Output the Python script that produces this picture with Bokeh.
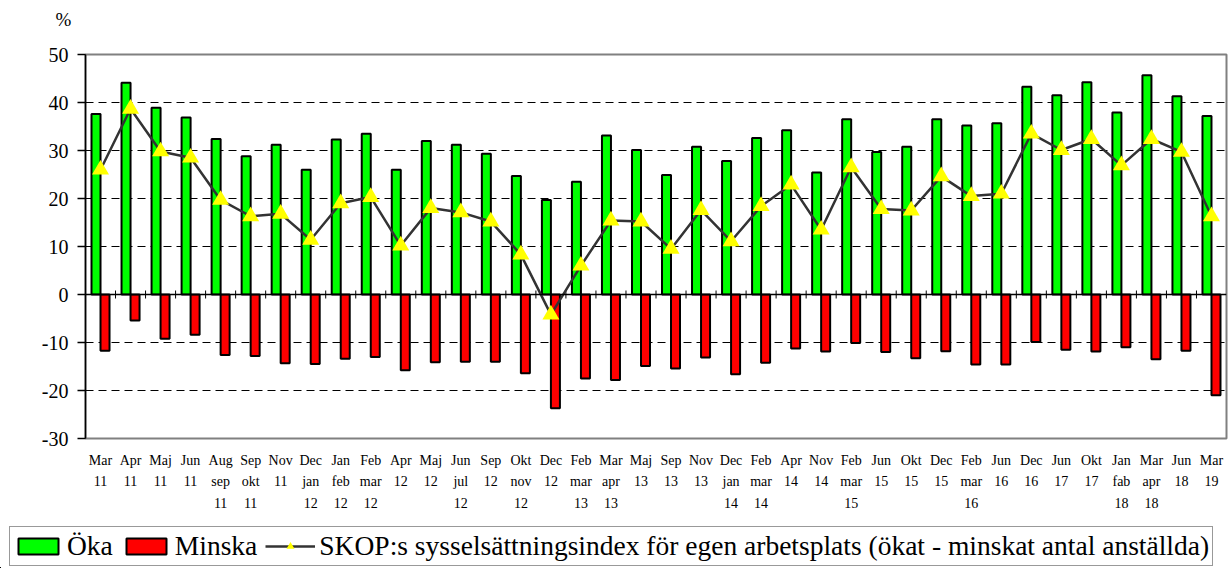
import math
from bokeh.plotting import figure
from bokeh.layouts import column
from bokeh.models import (Range1d, FixedTicker, Legend, LegendItem, Span,
                          ColumnDataSource)
from bokeh.transform import dodge
from bokeh.embed import file_html
from bokeh.resources import INLINE

labels = ["Mar\n11", "Apr\n11", "Maj\n11", "Jun\n11", "Aug\nsep\n11", "Sep\nokt\n11",
          "Nov\n11", "Dec\njan\n12", "Jan\nfeb\n12", "Feb\nmar\n12", "Apr\n12", "Maj\n12",
          "Jun\njul\n12", "Sep\n12", "Okt\nnov\n12", "Dec\n12", "Feb\nmar\n13", "Mar\napr\n13",
          "Maj\n13", "Sep\n13", "Nov\n13", "Dec\njan\n14", "Feb\nmar\n14", "Apr\n14",
          "Nov\n14", "Feb\nmar\n15", "Jun\n15", "Okt\n15", "Dec\n15", "Feb\nmar\n16",
          "Jun\n16", "Dec\n16", "Jun\n17", "Okt\n17", "Jan\nfab\n18", "Mar\napr\n18",
          "Jun\n18", "Mar\n19"]

oka = [37.6, 44.1, 38.9, 36.9, 32.4, 28.8, 31.2, 26.0, 32.3, 33.5, 26.0, 32.0, 31.2,
       29.3, 24.7, 19.7, 23.5, 33.1, 30.1, 24.9, 30.8, 27.8, 32.6, 34.2, 25.4, 36.5,
       29.7, 30.8, 36.5, 35.2, 35.7, 43.3, 41.5, 44.2, 37.9, 45.7, 41.3, 37.2]

minska = [-11.7, -5.4, -9.2, -8.4, -12.6, -12.8, -14.3, -14.5, -13.4, -13.0, -15.8,
          -14.1, -14.0, -14.0, -16.4, -23.7, -17.5, -17.8, -14.9, -15.4, -13.1, -16.6,
          -14.2, -11.25, -11.9, -10.1, -12.0, -13.3, -11.8, -14.6, -14.6, -9.9, -11.5,
          -11.9, -11.0, -13.5, -11.7, -21.0]

index = [26.0, 38.7, 29.8, 28.5, 19.7, 16.3, 16.8, 11.4, 19.0, 20.3, 10.2, 18.0, 17.1,
         15.2, 8.3, -4.2, 6.0, 15.4, 15.2, 9.5, 17.6, 11.1, 18.4, 22.9, 13.5, 26.5,
         17.8, 17.5, 24.6, 20.5, 21.0, 33.5, 30.1, 32.4, 26.9, 32.4, 29.7, 16.3]

y_ticks = [-30, -20, -10, 0, 10, 20, 30, 40, 50]
y_tick_labels = ["-30", "-20", "-10", "0", "10", "20", "30", "40", "50"]
grid_ticks = [-20, -10, 10, 20, 30, 40]

series_names = ["Öka", "Minska",
                "SKOP:s sysselsättningsindex för egen arbetsplats (ökat - minskat antal anställda)"]

FONT = "Liberation Serif"
GREEN, RED, YELLOW, LINE = "#00FF00", "#FF0000", "#FFFF00", "#333333"

n = len(labels)
xs = list(range(n))
src = ColumnDataSource(dict(x=xs, oka=oka, minska=minska, idx=index))

p = figure(width=1231, height=520, output_backend="svg", toolbar_location=None,
           x_range=Range1d(-0.5, n - 0.5), y_range=Range1d(y_ticks[0], y_ticks[-1]),
           min_border_left=85, min_border_right=5, min_border_top=54,
           min_border_bottom=82)
p.frame_align = False

p.title.text = "%\n"
p.title.align = "left"
p.title.offset = -30
p.title.standoff = 8
p.title.text_font = FONT
p.title.text_font_size = "19px"
p.title.text_font_style = "normal"
p.title.text_color = "black"

p.outline_line_color = "#808080"
p.outline_line_width = 2
p.xgrid.visible = False
p.ygrid.ticker = FixedTicker(ticks=grid_ticks)
p.ygrid.grid_line_color = "black"
p.ygrid.grid_line_dash = "8 5"
p.ygrid.grid_line_width = 1


def add_series(fig, tri_size):
    g = fig.vbar(x=dodge("x", -0.15, range=fig.x_range), top="oka", bottom=0, width=0.3,
                 source=src, fill_color=GREEN, line_color="black", line_width=2)
    r = fig.vbar(x=dodge("x", 0.15, range=fig.x_range), top=0, bottom="minska", width=0.3,
                 source=src, fill_color=RED, line_color="black", line_width=2)
    if fig is p:
        fig.add_layout(Span(location=0, dimension="width", line_color="black",
                            line_width=1.5))
        fig.scatter(x=[i + 0.5 for i in xs[:-1]], y=[0] * (n - 1), marker="dash",
                    angle=math.pi / 2, size=8, line_color="black", line_width=1)
    ln = fig.line("x", "idx", source=src, line_color=LINE, line_width=2.5)
    tr = fig.scatter("x", "idx", source=src, marker="triangle", size=tri_size,
                     fill_color=YELLOW, line_color=None)
    return g, r, ln, tr


add_series(p, 17)

# y axis
ya = p.yaxis[0]
ya.ticker = FixedTicker(ticks=y_ticks)
ya.major_label_overrides = {t: s for t, s in zip(y_ticks, y_tick_labels)}
ya.axis_line_color = "black"
ya.axis_line_width = 1.5
ya.major_tick_line_color = "black"
ya.major_tick_line_width = 1.5
ya.major_tick_out = 8
ya.major_tick_in = 0
ya.minor_tick_line_color = None
ya.major_label_standoff = 9
ya.major_label_text_font = FONT
ya.major_label_text_font_size = "20px"
ya.major_label_text_color = "black"

# x axis
xa = p.xaxis[0]
xa.ticker = FixedTicker(ticks=xs)
xa.major_label_overrides = {i: lab for i, lab in zip(xs, labels)}
xa.axis_line_color = None
xa.major_tick_line_color = None
xa.minor_tick_line_color = None
xa.major_tick_out = 0
xa.major_tick_in = 0
xa.major_label_standoff = 14
xa.major_label_text_font = FONT
xa.major_label_text_font_size = "14px"
xa.major_label_text_line_height = 1.45
xa.major_label_text_color = "black"

# legend strip: a separate canvas below the chart (its ranges keep the series out of view)
lf = figure(width=1231, height=48, output_backend="svg", toolbar_location=None,
            x_axis_type=None, y_axis_type=None, x_range=Range1d(1000, 1001),
            y_range=Range1d(1000, 1001), min_border_left=0, min_border_right=0,
            min_border_top=0, min_border_bottom=0)
lf.frame_align = False
lf.outline_line_color = None
g_g, g_r, g_l, g_t = add_series(lf, 14)

legend = Legend(items=[LegendItem(label=series_names[0], renderers=[g_g]),
                       LegendItem(label=series_names[1], renderers=[g_r]),
                       LegendItem(label=series_names[2], renderers=[g_l, g_t])],
                orientation="horizontal", location=(9, 2),
                label_text_font=FONT, label_text_font_size="27.5px",
                label_text_color="black",
                glyph_width=50, glyph_height=20, label_standoff=4, spacing=8,
                padding=3, margin=0, border_line_color="#333333",
                border_line_width=1, background_fill_color="white",
                background_fill_alpha=1)
lf.add_layout(legend, "center")

layout = column(p, lf, spacing=0)
open("out.html", "w").write(file_html(layout, INLINE))
